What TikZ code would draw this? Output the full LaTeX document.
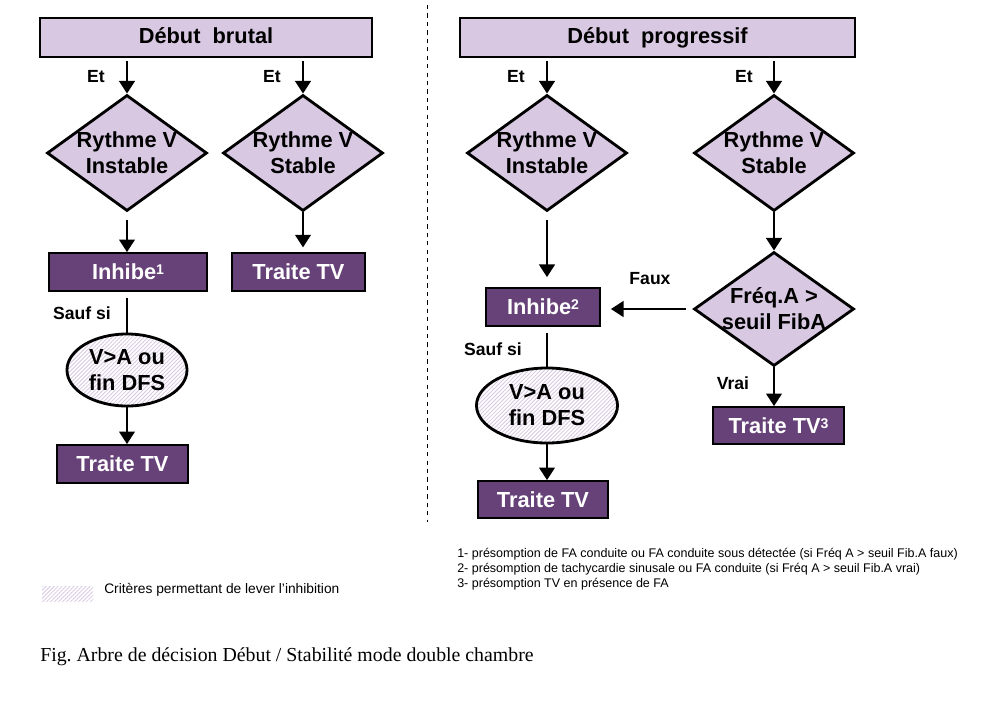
\documentclass[tikz,border=0pt]{standalone}
\usepackage{fontspec}
\setmainfont{Liberation Sans}
\newfontfamily\legende{Liberation Serif}
\usetikzlibrary{shapes.geometric,arrows.meta,patterns.meta}
\definecolor{clair}{RGB}{216,200,226}
\definecolor{fonce}{RGB}{102,66,120}
\frenchspacing
\tikzset{
  titre/.style={draw,line width=1.4pt,fill=clair,minimum height=0.975cm,text height=11pt,text depth=3pt,font=\fontsize{15.5}{18}\selectfont\bfseries},
  losange/.style={draw,diamond,line width=2pt,fill=clair,inner sep=0pt,minimum width=4cm,minimum height=2.9cm},
  boite/.style={draw,line width=1.2pt,fill=fonce,text=white,minimum height=0.95cm,font=\fontsize{15.5}{18}\selectfont\bfseries},
  critere/.style={draw,ellipse,line width=2pt,inner sep=0pt,preaction={fill=white},
    pattern={Lines[angle=45,distance=2pt,line width=0.6pt]},pattern color=clair},
  txt/.style={align=center,font=\fontsize{15.5}{18.5}\selectfont\bfseries},
  etiq/.style={font=\fontsize{12.5}{15}\selectfont\bfseries},
  fleche/.style={line width=2pt,-{Triangle[width=11pt,length=9pt]}},
  trait/.style={line width=2pt}
}
\newcommand\expo[1]{\raisebox{0.45ex}{\fontsize{10}{10}\selectfont #1}}
\begin{document}
\begin{tikzpicture}[x=0.025cm,y=-0.025cm]
\useasboundingbox (0,0) rectangle (1001,712);
\draw[dashed,thin] (427,5) -- (427,522);
% debut brutal
\node[titre,minimum width=8.3cm] (brutal) at (206,37.5) {D\'ebut\ \ brutal};
\node[losange] (inst1) at (127,153) {};
\node[txt] (inst1t) at (inst1) {Rythme V\\Instable};
\node[losange] (stab1) at (303,153) {};
\node[txt] (stab1t) at (stab1) {Rythme V\\Stable};
\draw[fleche] (brutal.south -| inst1) ++(0,3) -- (inst1.north);
\draw[fleche] (brutal.south -| stab1) ++(0,3) -- (stab1.north);
\node[etiq] (et1) at (96,77) {Et};
\node[etiq] (et2) at (272,77) {Et};
\node[boite,minimum width=3.95cm] (inh1) at (128,272) {Inhibe\expo{1}};
\node[boite,minimum width=3.325cm] (tv1) at (298.5,272) {Traite TV};
\draw[fleche,shorten <=0.2cm] (inst1.south) -- (inst1.south |- inh1.north);
\draw[fleche] (stab1.south) -- ++(0,35);
\node[critere,minimum width=3cm,minimum height=1.8cm] (dfs1) at (127,370) {};
\node[txt] (dfs1t) at (dfs1) {V>A ou\\fin DFS};
\draw[trait,shorten <=0.15cm] (inh1.south -| dfs1) -- (dfs1.north);
\node[etiq] (sauf1) at (82,313) {Sauf si};
\node[boite,minimum width=3.275cm] (tv1b) at (122.5,464) {Traite TV};
\draw[fleche] (dfs1.south) -- (dfs1.south |- tv1b.north);
% debut progressif
\node[titre,minimum width=9.875cm] (progr) at (657.5,37.5) {D\'ebut\ \ progressif};
\node[losange] (inst2) at (547,153) {};
\node[txt] (inst2t) at (inst2) {Rythme V\\Instable};
\node[losange] (stab2) at (774,153) {};
\node[txt] (stab2t) at (stab2) {Rythme V\\Stable};
\draw[fleche] (progr.south -| inst2) ++(0,3) -- (inst2.north);
\draw[fleche] (progr.south -| stab2) ++(0,3) -- (stab2.north);
\node[etiq] (et3) at (516,77) {Et};
\node[etiq] (et4) at (744,77) {Et};
\node[losange,minimum height=2.85cm] (freq) at (774,309) {};
\node[txt] (freqt) at (freq) {Fr\'eq.A >\\seuil FibA};
\draw[fleche] (stab2.south) -- (freq.north);
\node[boite,minimum width=2.85cm] (inh2) at (543,307) {Inhibe\expo{2}};
\draw[fleche,shorten <=0.2cm,shorten >=0.25cm] (inst2.south) -- (inst2.south |- inh2.north);
\draw[fleche,shorten <=0.175cm,shorten >=0.25cm] (freq.west) -- (freq.west -| inh2.east);
\node[etiq] (faux) at (650,279) {Faux};
\node[critere,minimum width=3.525cm,minimum height=1.875cm] (dfs2) at (547,405.5) {};
\node[txt] (dfs2t) at (dfs2) {V>A ou\\fin DFS};
\draw[trait,shorten <=0.15cm] (inh2.south -| dfs2) -- (dfs2.north);
\node[etiq] (sauf2) at (493,349) {Sauf si};
\node[boite,minimum width=3.25cm,minimum height=0.925cm] (tv2) at (543,499.5) {Traite TV};
\draw[fleche] (dfs2.south) -- (dfs2.south |- tv2.north);
\node[boite,minimum width=3.275cm,minimum height=0.925cm] (tv3) at (778.5,425.5) {Traite TV\expo{3}};
\draw[fleche] (freq.south) -- (freq.south |- tv3.north);
\node[etiq] (vrai) at (733,383) {Vrai};
% notes
\node[anchor=north west,align=left,inner sep=0pt,font=\fontsize{8.9}{10.7}\selectfont] (notes) at (457,548)
  {1- pr\'esomption de FA conduite ou FA conduite sous d\'etect\'ee (si Fr\'eq A > seuil Fib.A faux)\\
   2- pr\'esomption de tachycardie sinusale ou FA conduite (si Fr\'eq A > seuil Fib.A vrai)\\
   3- pr\'esomption TV en pr\'esence de FA};
\fill[pattern={Lines[angle=45,distance=2pt,line width=0.6pt]},pattern color=clair] (42,586) rectangle (93,601);
\node[anchor=west,inner sep=0pt,font=\fontsize{9.8}{12}\selectfont] (leg) at (104,590) {Crit\`eres permettant de lever l'inhibition};
\node[anchor=west,inner sep=0pt,font=\legende\fontsize{14.1}{16}\selectfont] (fig) at (40,657) {Fig. Arbre de d\'ecision D\'ebut / Stabilit\'e mode double chambre};
\end{tikzpicture}
\end{document}
